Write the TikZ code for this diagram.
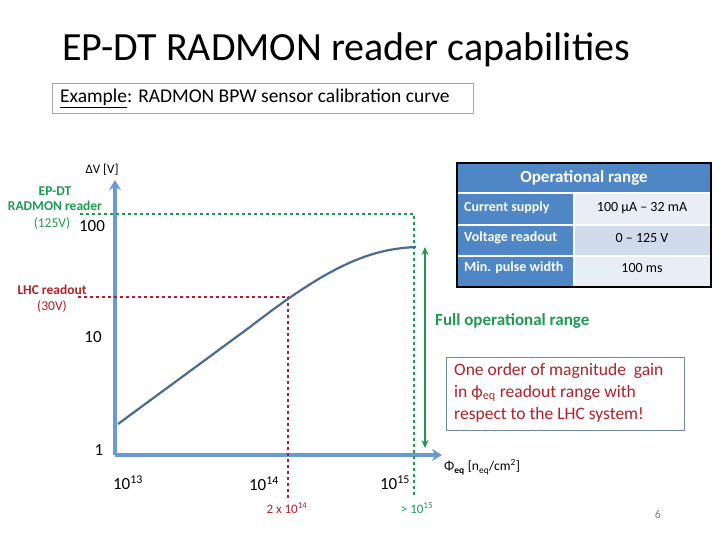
\documentclass[tikz,border=0pt]{standalone}
\usepackage{fontspec}
\setmainfont{Carlito}
\usetikzlibrary{arrows.meta}
\definecolor{axblue}{HTML}{6A9BD0}
\definecolor{curveblue}{HTML}{4A6A90}
\definecolor{dgreen}{HTML}{1E9A50}
\definecolor{dred}{HTML}{B0202A}
\definecolor{hdr}{HTML}{4F86C6}
\definecolor{cellA}{HTML}{E9EEF6}
\definecolor{cellB}{HTML}{D0DCEC}
\tikzset{
 axis/.style={draw=axblue,line width=4pt,-{Stealth[length=10pt,width=12pt]}},
 gdash/.style={draw=dgreen,dashed,line width=1.3pt},
 rdash/.style={draw=dred,dashed,line width=1.3pt},
 lab/.style={font=\fontsize{17}{19}\selectfont,inner sep=0pt},
 hcell/.style={text=white,font=\bfseries\fontsize{14}{16}\selectfont,anchor=west,inner sep=0pt},
 vcell/.style={font=\fontsize{14}{16}\selectfont,inner sep=0pt},
}
\begin{document}
\begin{tikzpicture}[x=1pt,y=-1pt]
\useasboundingbox (0,0) rectangle (720,540);
\node[font=\fontsize{40}{44}\selectfont,anchor=west,inner sep=0pt] (title) at (62,50) {EP-DT RADMON reader capabilities};
\node[draw=gray!70,line width=0.8pt,minimum width=421pt,minimum height=30pt,anchor=north west,inner sep=0pt] (ex) at (52,83) {};
\node[font=\fontsize{19.5}{22}\selectfont,anchor=west,inner sep=0pt] at (60,98) {\underline{Example}: RADMON BPW sensor calibration curve};
% table
\fill[hdr] (457,163) rectangle (711,193);
\node[text=white,font=\bfseries\fontsize{17}{19}\selectfont] (th) at (584,178) {Operational range};
\fill[hdr] (457,193) rectangle (574,287);
\fill[cellA] (574,193) rectangle (711,225);
\fill[cellB] (574,225) rectangle (711,256);
\fill[cellA] (574,256) rectangle (711,287);
\draw[white,line width=1.2pt] (457,193)--(711,193) (457,225)--(711,225) (457,256)--(711,256) (574,193)--(574,287);
\draw[black,line width=1.5pt] (457,163) rectangle (711,287);
\node[hcell] (c1) at (464,208) {Current supply};
\node[hcell] (c2) at (464,238) {Voltage readout};
\node[hcell] (c3) at (464,268) {Min. pulse width};
\node[vcell] (v1) at (642,208) {100 µA – 32 mA};
\node[vcell] (v2) at (642,238) {0 – 125 V};
\node[vcell] (v3) at (642,268) {100 ms};
% axes
\coordinate (o) at (115,455);
\coordinate (ytop) at (115,180);
\coordinate (xend) at (442,455);
\path[axis] (o) -- (ytop);
\path[axis] (o) -- (xend);
% dashed lines
\coordinate (g1) at (80,214); \coordinate (g2) at (414,214); \coordinate (g3) at (414,498);
\draw[gdash] (g1)--(g2)--(g3);
\coordinate (r1) at (78,297); \coordinate (r2) at (288,297); \coordinate (r3) at (288,498);
\draw[rdash] (r1)--(r2)--(r3);
% curve
\coordinate (cs) at (118,424); \coordinate (ce) at (416,247);
\draw[curveblue,line width=2.2pt] (cs) -- (250,327) .. controls (330,265) and (370,249) .. (ce);
% green double arrow
\coordinate (ga) at (425,247); \coordinate (gb) at (425,448);
\draw[dgreen,line width=1.5pt,{Stealth[length=8pt,width=7pt]}-{Stealth[length=8pt,width=7pt]}] (ga)--(gb);
% labels
\node[font=\fontsize{13}{15}\selectfont,inner sep=0pt] (dv) at (102,170) {ΔV [V]};
\node[text=dgreen,font=\bfseries\fontsize{13.5}{15}\selectfont,align=center,inner sep=0pt] (ep) at (55,199) {EP-DT\\RADMON reader};
\node[text=dgreen,font=\fontsize{13.5}{15}\selectfont,inner sep=0pt] (v125) at (52,223) {(125V)};
\node[lab] (y100) at (92,226) {100};
\node[text=dred,font=\bfseries\fontsize{13.5}{15}\selectfont,inner sep=0pt] (lhc) at (52,290) {LHC readout};
\node[text=dred,font=\fontsize{13.5}{15}\selectfont,inner sep=0pt] (v30) at (52,306) {(30V)};
\node[lab] (y10) at (93,337) {10};
\node[lab] (y1) at (99,450) {1};
\node[lab] (x13) at (128,483) {10\textsuperscript{13}};
\node[lab] (x14) at (264,484) {10\textsuperscript{14}};
\node[lab] (x15) at (395,483) {10\textsuperscript{15}};
\node[text=dred,font=\fontsize{13}{15}\selectfont,inner sep=0pt] (r214) at (287,508) {2 x 10\textsuperscript{14}};
\node[text=dgreen,font=\fontsize{13}{15}\selectfont,inner sep=0pt] (g15) at (417,508) {> 10\textsuperscript{15}};
\node[font=\fontsize{13.5}{15}\selectfont,anchor=west,inner sep=0pt] (phi) at (444,467) {Φ\textsubscript{\bfseries eq} [n\textsubscript{eq}/cm\textsuperscript{2}]};
\node[text=dgreen,font=\bfseries\fontsize{17}{19}\selectfont,anchor=west,inner sep=0pt] (full) at (435,321) {Full operational range};
\node[draw=curveblue!80,line width=0.8pt,anchor=north west,minimum width=238pt,minimum height=73pt,inner sep=0pt] (box) at (446,357) {};
\node[text=dred,font=\fontsize{17.5}{22}\selectfont,align=left,anchor=north west,inner sep=0pt] (boxt) at (454,363) {One order of magnitude\ \ gain\\in ϕ\textsubscript{eq} readout range with\\respect to the LHC system!};
\node[font=\fontsize{12}{14}\selectfont,text=gray] (pg) at (658,514) {6};
\end{tikzpicture}
\end{document}
